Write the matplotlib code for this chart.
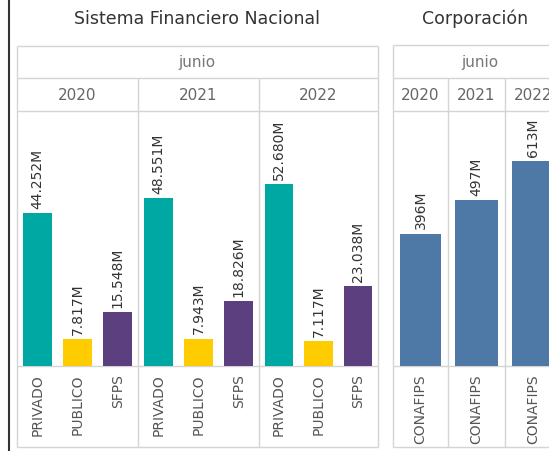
import matplotlib
matplotlib.use('Agg')
import matplotlib.pyplot as plt

# Data (junio of each year)
years = ['2020', '2021', '2022']
sfn_categories = ['PRIVADO', 'PUBLICO', 'SFPS']
privado = [44.252, 48.551, 52.680]
publico = [7.817, 7.943, 7.117]
sfps = [15.548, 18.826, 23.038]
corp_category = 'CONAFIPS'
conafips = [396, 497, 613]

# Colors
sfn_colors = ['#00A8A3', '#FFCC00', '#5C3F7E']
corp_color = '#4E79A7'
grid_color = '#d4d4d4'

W, H = 549, 451
fig = plt.figure(figsize=(W / 100, H / 100), dpi=100)
fig.patch.set_facecolor('white')

# overlay in pixel coordinates for the table borders and headers
frame = fig.add_axes([0, 0, 1, 1], zorder=0)
frame.set_xlim(0, W)
frame.set_ylim(H, 0)
frame.axis('off')


def px_axes(x0, x1, y0, y1):
    ax = fig.add_axes([x0 / W, 1 - y1 / H, (x1 - x0) / W, (y1 - y0) / H], zorder=1)
    ax.patch.set_alpha(0)
    for s in ax.spines.values():
        s.set_visible(False)
    ax.set_yticks([])
    ax.tick_params(axis='x', length=0, pad=6, labelsize=10, labelcolor='#555555')
    return ax


plot_top, plot_bottom, table_bottom = 111, 366, 447

# --- Sistema Financiero Nacional ---
left_cols = [17, 138, 259, 378]
for i, year in enumerate(years):
    ax = px_axes(left_cols[i], left_cols[i + 1], plot_top, plot_bottom)
    vals = [privado[i], publico[i], sfps[i]]
    ax.bar(range(3), vals, width=0.72, color=sfn_colors)
    ax.set_xlim(-0.5, 2.5)
    ax.set_ylim(0, 73.8)
    ax.set_xticks(range(3))
    ax.set_xticklabels(sfn_categories, rotation=90, va='top')
    for j, v in enumerate(vals):
        ax.annotate(f'{v:.3f}M', (j, v), xytext=(0, 3), textcoords='offset points',
                    rotation=90, ha='center', va='bottom', fontsize=10, color='#333333')
    frame.text((left_cols[i] + left_cols[i + 1]) / 2, 95, year, ha='center', va='center',
               fontsize=11, color='#666666')

# --- Corporación ---
right_cols = [393, 448, 505, 562]
for i, year in enumerate(years):
    ax = px_axes(right_cols[i], right_cols[i + 1], plot_top, plot_bottom)
    ax.bar([0], [conafips[i]], width=0.75, color=corp_color)
    ax.set_xlim(-0.5, 0.5)
    ax.set_ylim(0, 763)
    ax.set_xticks([0])
    ax.set_xticklabels([corp_category], rotation=90, va='top')
    ax.annotate(f'{conafips[i]:.0f}M', (0, conafips[i]), xytext=(0, 3), textcoords='offset points',
                rotation=90, ha='center', va='bottom', fontsize=10, color='#333333')
    frame.text((right_cols[i] + right_cols[i + 1]) / 2, 95, year, ha='center', va='center',
               fontsize=11, color='#666666')

# table borders
kw = dict(color=grid_color, lw=1, solid_capstyle='butt')
for x0, x1, top, cols in [(17, 378, 46, left_cols), (393, 562, 45, right_cols)]:
    for y in [top, 78, plot_top, plot_bottom, table_bottom]:
        frame.plot([x0, x1], [y, y], **kw)
    frame.plot([x0, x0], [top, table_bottom], **kw)
    frame.plot([x1, x1], [top, table_bottom], **kw)
    for x in cols[1:-1]:
        frame.plot([x, x], [78, table_bottom], **kw)

# headers
frame.text(197, 62, 'junio', ha='center', va='center', fontsize=11, color='#777777')
frame.text(480, 62, 'junio', ha='center', va='center', fontsize=11, color='#777777')
frame.text(197, 19, 'Sistema Financiero Nacional', ha='center', va='center',
           fontsize=12.5, color='#333333')
frame.text(475, 19, 'Corporación', ha='center', va='center', fontsize=12.5, color='#333333')

# dark left border
frame.plot([9, 9], [0, H], color='#333333', lw=1.5)

fig.savefig('out.png', dpi=100)
